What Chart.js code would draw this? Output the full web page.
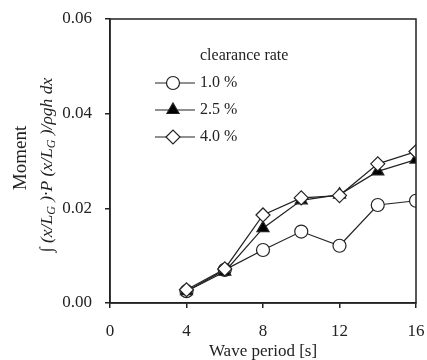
<!DOCTYPE html>
<html>
<head>
<meta charset="utf-8">
<script src="https://cdn.jsdelivr.net/npm/chart.js@4.4.1/dist/chart.umd.min.js"></script>
<style>
  html, body { margin: 0; padding: 0; background: #fff; }
  #wrap { width: 427px; height: 360px; }
</style>
</head>
<body>
<div id="wrap"><canvas id="chart"></canvas></div>
<script>
// wave period [s]
const periods = [4, 6, 8, 10, 12, 14, 16];
// moment for each clearance rate
const rate10 = [0.0025, 0.0070, 0.0112, 0.0151, 0.0121, 0.0207, 0.0216];
const rate25 = [0.0025, 0.0066, 0.0158, 0.0217, 0.0229, 0.0278, 0.0303];
const rate40 = [0.0028, 0.0072, 0.0186, 0.0222, 0.0227, 0.0294, 0.0320];
const seriesLabels = ["1.0 %", "2.5 %", "4.0 %"];
const legendTitle = "clearance rate";
const xTitle = "Wave period [s]";
const yTitle1 = "Moment";

const FONT = "'Liberation Serif', 'DejaVu Serif', serif";

function toPoints(vals) {
  return periods.map((p, i) => ({ x: p, y: vals[i] }));
}

const ctx = document.getElementById("chart");

// box around the plot area, titles and legend
const framePlugin = {
  id: "frame",
  afterDraw(chart) {
    const c = chart.ctx;
    const a = chart.chartArea;
    c.save();
    c.strokeStyle = "#222";
    c.lineWidth = 1.5;
    c.strokeRect(a.left, a.top, a.right - a.left, a.bottom - a.top);

    // x title
    c.fillStyle = "#222";
    c.font = "17px " + FONT;
    c.textAlign = "center";
    c.textBaseline = "middle";
    c.fillText(xTitle, (a.left + a.right) / 2, 352);

    // y title, two lines
    c.translate(21, 158);
    c.rotate(-Math.PI / 2);
    c.font = "19px " + FONT;
    c.fillText(yTitle1, 0, 0);
    c.restore();

    c.save();
    c.fillStyle = "#222";
    c.translate(47, 165);
    c.rotate(-Math.PI / 2);
    c.textBaseline = "middle";
    c.textAlign = "left";
    const big = "italic 17.5px " + FONT;
    const small = "italic 12px " + FONT;
    const parts = [
      ["\u222B (x/L", big, 0],
      ["G", small, 5],
      [" )\u00B7P (x/L", big, 0],
      ["G", small, 5],
      [" )/\u03C1gh dx", big, 0],
    ];
    let w = 0;
    parts.forEach((p) => { c.font = p[1]; w += c.measureText(p[0]).width; });
    let x = -w / 2;
    parts.forEach((p) => {
      c.font = p[1];
      c.fillText(p[0], x, p[2]);
      x += c.measureText(p[0]).width;
    });
    c.restore();

    // legend
    c.save();
    c.fillStyle = "#222";
    c.font = "16px " + FONT;
    c.textBaseline = "middle";
    c.fillText(legendTitle, 200, 56);
    const rows = [83, 110, 137];
    chart.data.datasets.forEach((ds, i) => {
      const y = rows[i];
      c.strokeStyle = "#222";
      c.lineWidth = 1.2;
      c.beginPath();
      c.moveTo(155, y);
      c.lineTo(195, y);
      c.stroke();
      c.fillStyle = ds.pointBackgroundColor;
      Chart.helpers.drawPoint(c, {
        pointStyle: ds.pointStyle,
        radius: ds.pointRadius,
        rotation: 0,
        borderWidth: 1.2,
      }, 173, y);
      c.fillStyle = "#222";
      c.fillText(ds.label, 200, y);
    });
    c.restore();
  },
};

new Chart(ctx, {
  type: "line",
  data: {
    datasets: [
      {
        label: seriesLabels[0],
        data: toPoints(rate10),
        pointStyle: "circle",
        pointRadius: 6.5,
        pointBackgroundColor: "#fff",
        order: 2,
      },
      {
        label: seriesLabels[1],
        data: toPoints(rate25),
        pointStyle: "triangle",
        pointRadius: 7,
        pointBackgroundColor: "#000",
        order: 1,
      },
      {
        label: seriesLabels[2],
        data: toPoints(rate40),
        pointStyle: "rectRot",
        pointRadius: 7,
        pointBackgroundColor: "#fff",
        order: 0,
      },
    ].map((d) => Object.assign(d, {
      borderColor: "#222",
      borderWidth: 1.2,
      pointBorderColor: "#222",
      pointBorderWidth: 1.2,
      pointHoverRadius: d.pointRadius,
      tension: 0,
    })),
  },
  options: {
    responsive: true,
    maintainAspectRatio: false,
    animation: false,
    layout: { padding: { top: 19, right: 11, left: 0, bottom: 0 } },
    plugins: { legend: { display: false }, tooltip: { enabled: false } },
    scales: {
      x: {
        type: "linear",
        min: 0,
        max: 16,
        ticks: { stepSize: 4, color: "#222", font: { family: FONT, size: 17 }, padding: 13 },
        grid: { drawOnChartArea: false, tickLength: 5, color: "#222", lineWidth: 1.5 },
        border: { color: "#222", width: 1.5 },
        afterFit(scale) {
          scale.height = 57;
          scale.paddingLeft = 0;
          scale.paddingRight = 0;
        },
      },
      y: {
        min: 0,
        max: 0.06,
        ticks: {
          stepSize: 0.02,
          color: "#222",
          font: { family: FONT, size: 17 },
          padding: 13,
          callback: (v) => v.toFixed(2),
        },
        grid: { drawOnChartArea: false, tickLength: 5, color: "#222", lineWidth: 1.5 },
        border: { color: "#222", width: 1.5 },
        afterFit(scale) {
          scale.width = 110;
          scale.paddingTop = 0;
          scale.paddingBottom = 0;
        },
      },
    },
  },
  plugins: [framePlugin],
});
</script>
</body>
</html>
